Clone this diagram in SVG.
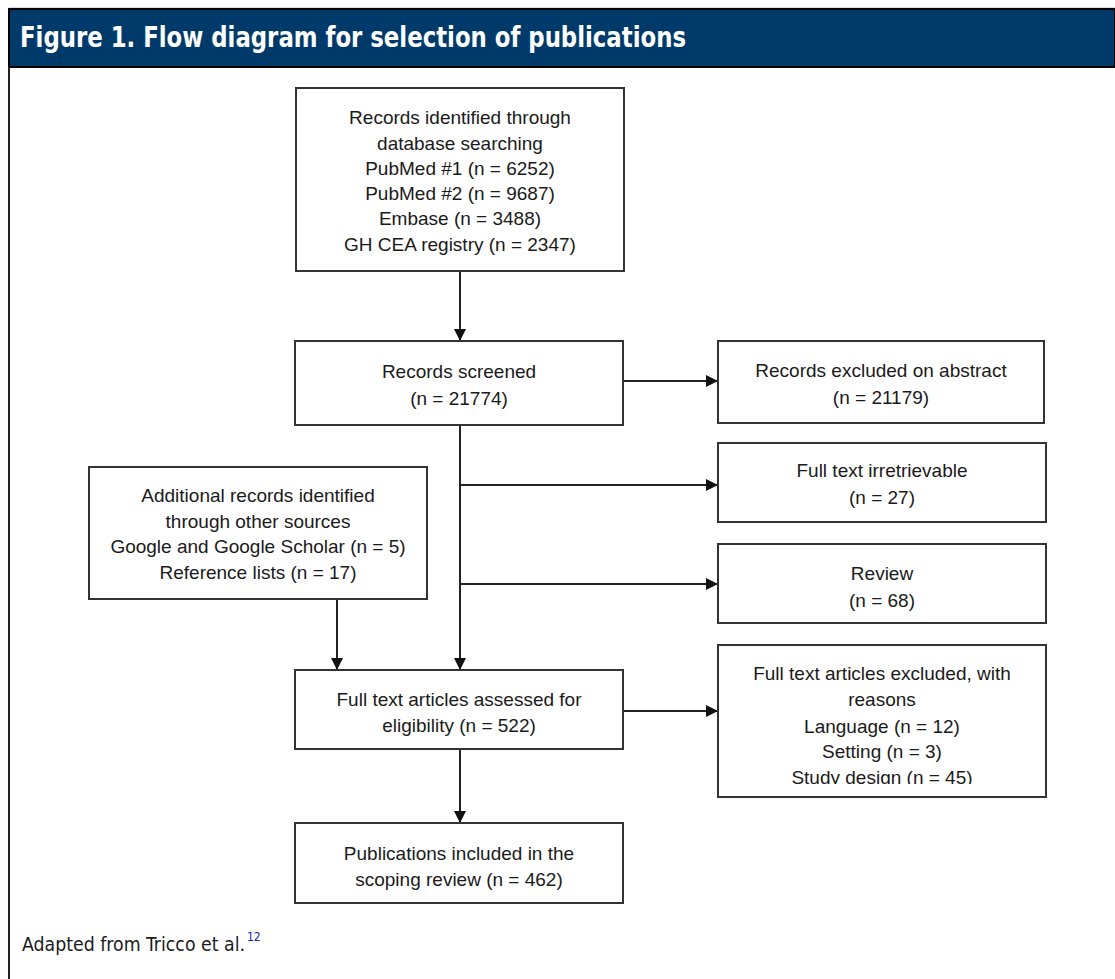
<svg xmlns="http://www.w3.org/2000/svg" width="1115" height="979" viewBox="0 0 1115 979">
<style>
.box{fill:#fff;stroke:#333;stroke-width:2}
.t{font-family:"Liberation Sans",Arial,sans-serif;font-size:19px;fill:#1a1a1a;text-anchor:middle}
.c{stroke:#222;stroke-width:2;fill:none}
</style>
<defs>
<marker id="ah" markerWidth="12" markerHeight="12" refX="11" refY="6" orient="auto" markerUnits="userSpaceOnUse">
<path d="M0,0 L12,6 L0,12 Z" fill="#111"/>
</marker>
<clipPath id="clip6"><rect x="719" y="646" width="326" height="138"/></clipPath>
</defs>
<rect x="0" y="0" width="1115" height="979" fill="#fff"/>
<g id="header">
<line x1="9" y1="8" x2="1115" y2="8" stroke="#bbb" stroke-width="1"/>
<rect x="9" y="9" width="1106" height="58" fill="#003a6b" stroke="#000" stroke-width="2"/>
<text x="20" y="47" font-family="'DejaVu Sans Condensed','DejaVu Sans',sans-serif" font-weight="bold" font-size="29" fill="#fff" textLength="666" lengthAdjust="spacingAndGlyphs">Figure 1. Flow diagram for selection of publications</text>
</g>
<line x1="9" y1="67" x2="9" y2="979" stroke="#222" stroke-width="2"/>
<g id="connectors">
<line class="c" x1="460" y1="271" x2="460" y2="340" marker-end="url(#ah)"/>
<line class="c" x1="623" y1="381" x2="717" y2="381" marker-end="url(#ah)"/>
<line class="c" x1="460" y1="425" x2="460" y2="669" marker-end="url(#ah)"/>
<line class="c" x1="460" y1="485" x2="717" y2="485" marker-end="url(#ah)"/>
<line class="c" x1="460" y1="584" x2="717" y2="584" marker-end="url(#ah)"/>
<line class="c" x1="337" y1="599" x2="337" y2="669" marker-end="url(#ah)"/>
<line class="c" x1="623" y1="711" x2="717" y2="711" marker-end="url(#ah)"/>
<line class="c" x1="460" y1="749" x2="460" y2="822" marker-end="url(#ah)"/>
</g>
<g id="n1">
<rect class="box" x="296" y="88" width="328" height="183"/>
<text class="t" x="460" y="124">Records identified through</text>
<text class="t" x="460" y="150">database searching</text>
<text class="t" x="460" y="175">PubMed #1 (n = 6252)</text>
<text class="t" x="460" y="200">PubMed #2 (n = 9687)</text>
<text class="t" x="460" y="225">Embase (n = 3488)</text>
<text class="t" x="460" y="251">GH CEA registry (n = 2347)</text>
</g>
<g id="n2">
<rect class="box" x="295" y="341" width="328" height="84"/>
<text class="t" x="459" y="378">Records screened</text>
<text class="t" x="459" y="405">(n = 21774)</text>
</g>
<g id="n3">
<rect class="box" x="718" y="341" width="326" height="82"/>
<text class="t" x="881" y="377">Records excluded on abstract</text>
<text class="t" x="881" y="404">(n = 21179)</text>
</g>
<g id="n4">
<rect class="box" x="718" y="443" width="328" height="79"/>
<text class="t" x="882" y="477">Full text irretrievable</text>
<text class="t" x="882" y="504">(n = 27)</text>
</g>
<g id="n5">
<rect class="box" x="718" y="544" width="328" height="79"/>
<text class="t" x="882" y="580">Review</text>
<text class="t" x="882" y="607">(n = 68)</text>
</g>
<g id="n6">
<rect class="box" x="89" y="467" width="338" height="132"/>
<text class="t" x="258" y="502">Additional records identified</text>
<text class="t" x="258" y="528">through other sources</text>
<text class="t" x="258" y="553">Google and Google Scholar (n = 5)</text>
<text class="t" x="258" y="579">Reference lists (n = 17)</text>
</g>
<g id="n7">
<rect class="box" x="295" y="670" width="328" height="79"/>
<text class="t" x="459" y="706">Full text articles assessed for</text>
<text class="t" x="459" y="732">eligibility (n = 522)</text>
</g>
<g id="n8">
<rect class="box" x="718" y="645" width="328" height="152"/>
<g clip-path="url(#clip6)">
<text class="t" x="882" y="680">Full text articles excluded, with</text>
<text class="t" x="882" y="706">reasons</text>
<text class="t" x="882" y="733">Language (n = 12)</text>
<text class="t" x="882" y="758">Setting (n = 3)</text>
<text class="t" x="882" y="784">Study design (n = 45)</text>
</g>
</g>
<g id="n9">
<rect class="box" x="295" y="823" width="328" height="80"/>
<text class="t" x="459" y="860">Publications included in the</text>
<text class="t" x="459" y="886">scoping review (n = 462)</text>
</g>
<g id="footer">
<text x="22" y="951" font-family="'DejaVu Sans Condensed','DejaVu Sans',sans-serif" font-size="19" fill="#1a1a1a" textLength="223" lengthAdjust="spacingAndGlyphs">Adapted from Tricco et al.</text>
<text x="247" y="941" font-family="'DejaVu Sans Condensed','DejaVu Sans',sans-serif" font-size="12" fill="#2222aa">12</text>
</g>
</svg>
